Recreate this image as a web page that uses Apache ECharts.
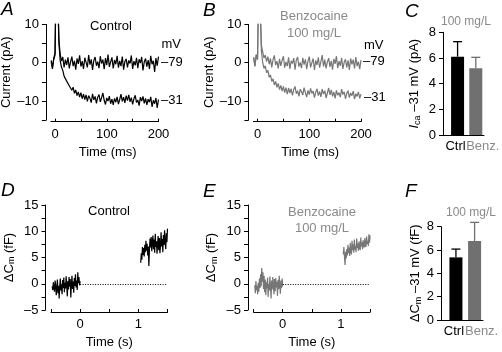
<!DOCTYPE html>
<html><head><meta charset="utf-8">
<script src="https://cdn.jsdelivr.net/npm/echarts@6/dist/echarts.min.js"></script>
<style>html,body{margin:0;padding:0;background:#fff}#c{width:502px;height:352px}</style>
</head><body><div id="c"></div>
<script>
const FONT = 'Liberation Sans, Arial, Helvetica, sans-serif';
const GRAY_TRACE = '#767676', GRAY_BAR = '#707070', GRAY_TEXT = '#8a8a8a';

// ---- Panels A/B: current traces (pA), sampled from -7.5 ms every 2.5 ms ----
const AB_T0 = -7.5, AB_DT = 2.5;
const ctrl79 = [0.3,-1.6,1.2,2.5,28,20,6,2.2,0.4,1.5,-1.2,0.8,-0.6,1.4,-1.5,0.2,1.6,-0.9,0.5,-1.8,1.1,-0.3,1.9,-1.0,0.4,-1.6,1.3,0.1,-1.2,2.0,-0.5,0.9,-1.9,0.6,1.5,-0.8,0.3,-1.4,1.7,-0.2,0.8,-1.7,1.2,-0.6,2.1,-1.1,0.2,1.4,-1.5,0.7,-0.4,1.8,-1.3,0.5,-0.9,1.6,-1.8,0.3,1.0,-1.2,0.6,-0.2,1.9,-1.6,0.4,-0.7,1.3,-1.4,0.9,-0.1,1.5,-2.0,0.2,1.1,-1.0,0.7,-1.6,1.8,-0.4,0.5,-2.4,1.2,-0.8,1.6];
const ctrl31 = [0.6,-1.2,0.9,2.0,26,18,5,0.5,-1.2,-2.0,-3.5,-3.0,-4.8,-4.4,-6.0,-5.5,-7.2,-6.4,-8.0,-7.1,-8.6,-7.6,-9.0,-7.8,-9.4,-8.2,-9.6,-8.4,-10.1,-8.6,-9.3,-10.4,-8.1,-9.7,-8.8,-10.6,-9.0,-8.3,-10.2,-9.1,-7.9,-9.8,-10.9,-9.2,-10.0,-8.7,-10.7,-9.5,-11.0,-9.3,-10.3,-8.9,-10.8,-9.6,-8.2,-10.1,-9.0,-10.5,-8.6,-9.9,-8.4,-10.2,-9.1,-10.9,-9.4,-8.5,-10.4,-9.7,-11.2,-9.0,-10.0,-8.8,-10.6,-9.3,-11.0,-9.5,-10.3,-8.9,-11.5,-9.8,-10.7,-9.2,-11.8,-9.6];
const benz79 = [1.5,-1.0,2.2,1.0,24,16,4.5,2.8,1.2,2.0,0.3,1.6,-0.4,1.1,-1.2,0.8,1.9,-0.6,0.4,-1.5,1.0,-0.8,0.6,1.7,-1.3,0.2,-0.9,1.4,-1.6,0.5,-0.2,1.2,-1.8,0.7,1.5,-1.0,0.1,-1.4,1.3,-0.5,0.9,-1.7,0.4,1.6,-1.2,0.0,1.1,-1.9,0.6,-0.6,1.4,-1.3,0.3,2.0,-1.0,0.8,-1.5,0.2,1.2,-1.1,0.5,-1.8,1.0,-0.3,1.7,-1.4,0.4,-0.8,1.3,-1.6,0.1,0.9,-1.2,0.6,-1.9,1.1,-0.4,0.8,-1.5,1.5,-0.9,0.3,-1.7,0.7];
const benz31 = [1.2,-0.8,2.0,0.8,22,14,3,0.0,-1.5,-0.8,-2.6,-2.0,-3.8,-3.2,-4.9,-4.2,-5.8,-4.9,-6.4,-5.4,-7.0,-5.9,-7.4,-6.2,-7.8,-6.5,-8.2,-6.6,-7.9,-6.8,-8.5,-7.0,-6.2,-8.1,-7.3,-8.8,-6.9,-7.6,-8.4,-6.5,-7.8,-9.0,-7.2,-8.3,-6.7,-8.0,-7.4,-9.1,-7.7,-6.8,-8.6,-7.5,-8.9,-6.9,-8.2,-7.3,-9.2,-7.9,-6.6,-8.4,-7.1,-8.8,-7.6,-9.3,-7.2,-8.5,-7.8,-9.0,-6.9,-8.3,-7.6,-9.4,-8.0,-7.3,-9.1,-7.9,-8.6,-7.4,-9.5,-8.1,-8.8,-7.6,-9.3,-8.2];

// ---- Panels D/E: capacitance traces (fF), sampled every 0.01 s ----
const CM_PRE_T0 = -0.48, CM_POST_T0 = 1.04, CM_DT = 0.01;
const ctrlCmPre = [-0.5,-1.2,0.3,-0.8,-1.5,0.6,-0.2,-2.2,-0.9,0.8,-1.8,-0.4,-2.8,-0.6,1.0,-1.3,-0.1,-2.0,0.7,-0.8,1.2,-1.6,0.2,-0.9,1.4,-0.3,-2.4,0.5,-1.1,1.3,-0.5,0.9,-2.6,-0.2,1.5,-1.0,0.4,-1.7,1.1,-0.4,1.8,-0.7,0.6,-1.2,2.2,0.1,1.3,-0.3,0.5];
const ctrlCmPost = [4.0,5.8,4.6,7.0,5.5,6.8,5.2,7.4,6.0,8.2,6.3,7.6,5.4,7.1,3.4,6.5,8.6,6.9,8.9,6.2,7.8,9.2,6.6,8.4,5.9,9.5,7.0,8.1,5.7,7.6,9.1,6.4,8.7,5.8,7.3,9.8,7.1,8.5,6.0,9.3,7.4,10.2,7.8,6.6,9.6,7.9,10.5];
const benzCmPre = [-0.3,-1.8,0.5,-1.2,-0.4,-2.0,0.2,-1.5,1.0,-0.8,1.8,-0.5,3.0,0.4,2.2,-1.0,1.5,-1.6,0.8,-2.2,0.3,-0.9,1.2,-2.5,0.0,-1.3,1.4,-0.6,-2.8,0.6,-1.1,1.3,-0.2,-2.0,0.9,-1.4,1.1,-0.7,0.4,-2.3,0.7,-1.0,1.5,-0.4,-1.9,0.6,-0.8,1.0,-0.5];
const benzCmPost = [5.6,7.0,5.2,3.6,6.1,4.8,6.6,5.4,7.4,5.8,6.9,5.3,7.8,6.2,5.6,8.2,6.4,7.5,5.9,8.4,6.5,7.2,6.0,8.6,6.8,7.7,6.3,8.1,7.0,6.4,8.8,7.1,7.9,6.6,8.3,7.3,6.9,8.7,7.4,7.0,9.0,7.6,8.2,7.2,9.4,7.8,9.2];
const zeroLineStart = 0, zeroLineEnd = 1.5;

// ---- Panels C/F: bar summaries ----
const barCats = ['Ctrl', 'Benz.'];
const barPos = [1, 2];
const icaMean = [6.1, 5.2],  icaErrTop = [7.27, 6.05];
const cmMean  = [5.37, 6.77], cmErrTop  = [6.08, 8.37];

// ---- tick values ----
const abXTicks = [0, 50, 100, 150, 200], abXLabels = [0, 100, 200];
const abYTicks = [-15, -10, -5, 0, 5, 10], abYLabels = [-10, 0, 10];
const deXTicks = [-0.5, 0, 0.5, 1, 1.5], deXLabels = [0, 1];
const deYTicks = [-5, -2.5, 0, 2.5, 5, 7.5, 10, 12.5, 15], deYLabels = [-5, 0, 5, 10, 15];
const barYTicks = [0, 2, 4, 6, 8];

const toXY = (t0, dt, arr) => arr.map((v, i) => [+(t0 + i * dt).toFixed(4), v]);
const fmt = v => (v < 0 ? '\u2013' + Math.abs(v) : String(v));
const txtStyle = { color: '#000', fontSize: 13, fontFamily: FONT };

function xAx(grid, min, max, ticks, labels, name, nameGap, offset, extra) {
  return Object.assign({
    gridIndex: grid, type: 'value', min, max, offset: offset || 0,
    axisLine: { show: true, onZero: false, lineStyle: { color: '#000', width: 1 } },
    axisTick: { show: true, inside: true, length: 3, customValues: ticks, lineStyle: { color: '#000', width: 1 } },
    axisLabel: { customValues: labels, formatter: fmt, margin: 6, ...txtStyle },
    splitLine: { show: false },
    name, nameLocation: 'middle', nameGap, nameTextStyle: { ...txtStyle }
  }, extra || {});
}
function yAx(grid, min, max, ticks, labels, name, nameGap, offset, nameRich) {
  return {
    gridIndex: grid, type: 'value', min, max, offset: offset || 0,
    axisLine: { show: true, onZero: false, lineStyle: { color: '#000', width: 1 } },
    axisTick: { show: true, inside: false, length: 4, customValues: ticks, lineStyle: { color: '#000', width: 1 } },
    axisLabel: { customValues: labels, formatter: fmt, margin: 7, ...txtStyle },
    splitLine: { show: false },
    name, nameLocation: 'middle', nameGap, nameRotate: 90,
    nameTextStyle: Object.assign({ ...txtStyle }, nameRich ? { rich: nameRich } : {})
  };
}
const barX = (grid) => ({
  gridIndex: grid, type: 'value', min: 0.2, max: 2.45,
  axisLine: { show: true, onZero: false, lineStyle: { color: '#000', width: 1 } },
  axisTick: { show: false },
  splitLine: { show: false },
  axisLabel: {
    customValues: barPos, margin: 5,
    formatter: v => (v === 1 ? '{c|' + barCats[0] + '}' : '{b|' + barCats[1] + '}'),
    rich: {
      c: { color: '#000', fontSize: 13, fontFamily: FONT, padding: [0, 4, 0, 0] },
      b: { color: GRAY_TEXT, fontSize: 13, fontFamily: FONT, padding: [0, 0, 0, 14] }
    }
  }
});

const subRich = {
  i: { fontStyle: 'italic', fontSize: 13, fontFamily: FONT, color: '#000' },
  s: { fontSize: 9, fontFamily: FONT, color: '#000', verticalAlign: 'bottom', padding: [6, 0, 0, 0] },
  n: { fontSize: 13, fontFamily: FONT, color: '#000' }
};

const lineS = (xi, data, color) => ({
  type: 'line', xAxisIndex: xi, yAxisIndex: xi, data, showSymbol: false, symbol: 'none',
  lineStyle: { color, width: 1.2 }, animation: false, silent: true, clip: true
});
const barS = (xi, means, errs) => ([
  {
    type: 'bar', xAxisIndex: xi, yAxisIndex: xi, barWidth: 13, animation: false, silent: true,
    data: means.map((m, i) => ({ value: [barPos[i], m], itemStyle: { color: i === 0 ? '#000' : GRAY_BAR } }))
  },
  {
    type: 'custom', xAxisIndex: xi, yAxisIndex: xi, animation: false, silent: true,
    data: means.map((m, i) => [barPos[i], m, errs[i]]),
    encode: { x: 0, y: [1, 2] },
    renderItem: (params, api) => {
      const x = api.value(0), lo = api.value(1), hi = api.value(2);
      const p1 = api.coord([x, lo]), p2 = api.coord([x, hi]);
      const c = params.dataIndex === 0 ? '#000' : GRAY_BAR;
      return { type: 'group', children: [
        { type: 'line', shape: { x1: p1[0], y1: p1[1], x2: p2[0], y2: p2[1] }, style: { stroke: c, lineWidth: 1.3 } },
        { type: 'line', shape: { x1: p2[0] - 4.5, y1: p2[1], x2: p2[0] + 4.5, y2: p2[1] }, style: { stroke: c, lineWidth: 1.3 } }
      ]};
    }
  }
]);
const zeroMark = {
  silent: true, symbol: 'none', label: { show: false }, animation: false,
  lineStyle: { type: [1, 1.5], color: '#000', width: 1 },
  data: [[{ coord: [zeroLineStart, 0] }, { coord: [zeroLineEnd, 0] }]]
};

const T = (x, y, text, o) => ({
  type: 'text', x, y, silent: true,
  style: Object.assign({ text, fill: '#000', fontSize: 13, fontFamily: FONT, align: 'left', verticalAlign: 'middle' }, o || {})
});
const letter = (x, y, t) => T(x, y, t, { fontSize: 19, fontStyle: 'italic', verticalAlign: 'top' });

const option = {
  backgroundColor: '#fff',
  animation: false,
  grid: [
    { left: 50.9, top: 24.4, width: 107.6, height: 95.8, outerBoundsMode: 'none', containLabel: false },
    { left: 253.4, top: 24.4, width: 107.6, height: 95.8, outerBoundsMode: 'none', containLabel: false },
    { left: 443, top: 32.3, width: 41, height: 102.7, outerBoundsMode: 'none', containLabel: false },
    { left: 51, top: 205, width: 116.5, height: 105, outerBoundsMode: 'none', containLabel: false },
    { left: 253.6, top: 205, width: 116.5, height: 105, outerBoundsMode: 'none', containLabel: false },
    { left: 441, top: 226.7, width: 42, height: 93.3, outerBoundsMode: 'none', containLabel: false }
  ],
  xAxis: [
    xAx(0, -8, 200, abXTicks, abXLabels, 'Time (ms)', 24, 1.5, { nameTextStyle: { ...txtStyle, padding: [0, 0, 0, 6] } }),
    xAx(1, -8, 200, abXTicks, abXLabels, 'Time (ms)', 24, 1.5, { nameTextStyle: { ...txtStyle, padding: [0, 0, 0, 6] } }),
    barX(2),
    xAx(3, -0.5, 1.5, deXTicks, deXLabels, 'Time (s)', 24, 2),
    xAx(4, -0.5, 1.5, deXTicks, deXLabels, 'Time (s)', 24, 2),
    barX(5)
  ],
  yAxis: [
    yAx(0, -15, 10, abYTicks, abYLabels, 'Current (pA)', 30, 5),
    yAx(1, -15, 10, abYTicks, abYLabels, 'Current (pA)', 30, 5),
    yAx(2, 0, 8, barYTicks, barYTicks, '{i|I}{s|ca}{n| \u201331 mV (pA)}', 21, 0, subRich),
    yAx(3, -5, 15, deYTicks, deYLabels, '{n|\u0394C}{s|m}{n| (fF)}', 29, 5.5, subRich),
    yAx(4, -5, 15, deYTicks, deYLabels, '{n|\u0394C}{s|m}{n| (fF)}', 29, 5.6, subRich),
    yAx(5, 0, 8, barYTicks, barYTicks, '{n|\u0394C}{s|m}{n| \u201331 mV (fF)}', 18, 0, subRich)
  ],
  series: [
    lineS(0, toXY(AB_T0, AB_DT, ctrl79), '#000'),
    lineS(0, toXY(AB_T0, AB_DT, ctrl31), '#000'),
    lineS(1, toXY(AB_T0, AB_DT, benz79), GRAY_TRACE),
    lineS(1, toXY(AB_T0, AB_DT, benz31), GRAY_TRACE),
    ...barS(2, icaMean, icaErrTop),
    lineS(3, toXY(CM_PRE_T0, CM_DT, ctrlCmPre), '#000'),
    Object.assign(lineS(3, toXY(CM_POST_T0, CM_DT, ctrlCmPost), '#000'), { markLine: zeroMark }),
    lineS(4, toXY(CM_PRE_T0, CM_DT, benzCmPre), GRAY_TRACE),
    Object.assign(lineS(4, toXY(CM_POST_T0, CM_DT, benzCmPost), GRAY_TRACE), { markLine: zeroMark }),
    ...barS(5, cmMean, cmErrTop)
  ],
  graphic: [
    letter(1, 0, 'A'), letter(203, 1, 'B'), letter(405, 2, 'C'),
    letter(1, 181, 'D'), letter(203, 182, 'E'), letter(405, 182, 'F'),
    T(111, 26, 'Control', { align: 'center' }),
    T(161.5, 44, 'mV'), T(161, 62, '\u201379'), T(161, 100.5, '\u201331'),
    T(314, 16, 'Benzocaine', { align: 'center', fill: GRAY_TEXT }),
    T(314, 33, '100 mg/L', { align: 'center', fill: GRAY_TEXT }),
    T(364, 45, 'mV'), T(363, 61.5, '\u201379'), T(364, 97, '\u201331'),
    T(466, 22, '100 mg/L', { align: 'center', fill: GRAY_TEXT, fontSize: 12 }),
    T(109, 211, 'Control', { align: 'center' }),
    T(322, 212, 'Benzocaine', { align: 'center', fill: GRAY_TEXT }),
    T(322, 228, '100 mg/L', { align: 'center', fill: GRAY_TEXT }),
    T(471, 213, '100 mg/L', { align: 'center', fill: GRAY_TEXT, fontSize: 12 })
  ]
};
const chart = echarts.init(document.getElementById('c'), null, { renderer: 'canvas' });
chart.setOption(option);
</script></body></html>
